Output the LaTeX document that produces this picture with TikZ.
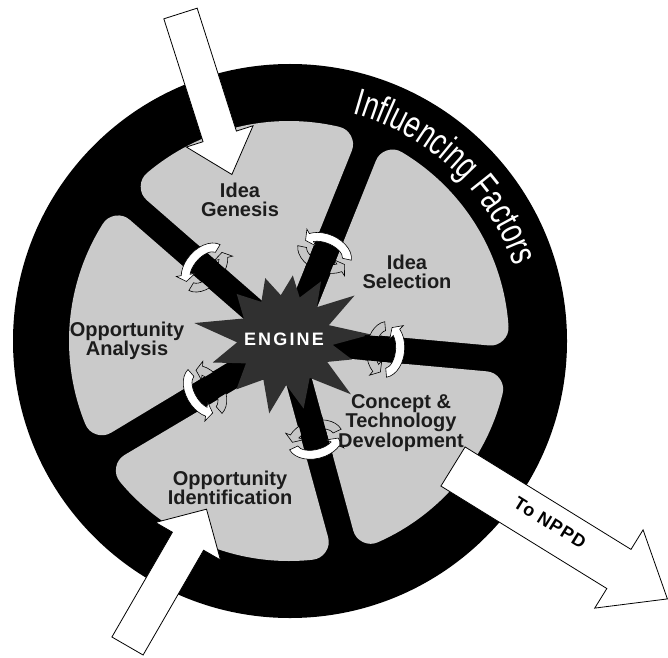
\documentclass[tikz,border=0pt]{standalone}
\usepackage{fontspec}
\setmainfont{Liberation Sans}
\newfontfamily\inffont[FakeStretch=0.72]{Liberation Sans}
\usetikzlibrary{decorations.text,calc}
\definecolor{segGray}{RGB}{202,202,202}
\definecolor{engineGray}{RGB}{48,48,48}
\definecolor{lblInk}{RGB}{28,28,28}
\tikzset{
  seg/.style={fill=segGray, draw=segGray, line width=36pt, line join=round},
  lbl/.style={font=\bfseries\fontsize{20pt}{19.5pt}\selectfont, text=lblInk, align=center, inner sep=0pt},
  bigarrow/.style={fill=white, draw=black, line width=0.8pt, line join=miter},
  twfront/.style={fill=white, draw=black, line width=0.6pt},
  twback/.style={fill=gray!45, draw=black, line width=0.6pt},
}
\newcommand\BigArrow[7]{% x,y,angle,L,H,hw,HW
  \begin{scope}[shift={(#1,#2)}, rotate=#3]
    \path[bigarrow] (0,-#6) -- (#4,-#6) -- (#4,-#7) -- ({#4+#5},0) -- (#4,#7) -- (#4,#6) -- (0,#6) -- cycle;
  \end{scope}}
\newcommand\TwBand[4]{% style, start, end, tip
  \path[#1] (#2:19pt and 28pt) arc[start angle=#2, end angle=#3, x radius=19pt, y radius=28pt]
     -- (#3:24pt and 33pt) -- (#4:14.5pt and 23.5pt) -- (#3:5pt and 14pt) -- (#3:10pt and 19pt)
     arc[start angle=#3, end angle=#2, x radius=10pt, y radius=19pt] -- cycle;}
\newcommand\Twist[2]{% spoke angle, distance from centre
  \begin{scope}[shift={(289,316)}, rotate=#1, xshift=#2pt]
    \TwBand{twback}{100}{235}{257}
    \fill[black] (-22,-12.5) rectangle (22,12.5);
    \TwBand{twfront}{-80}{50}{72}
  \end{scope}}
\begin{document}
\begin{tikzpicture}[x=1pt,y=1pt]
\useasboundingbox (0,0) rectangle (668,657);
\fill[white] (0,0) rectangle (668,657);
% ring
\fill[black] (290,316) circle[radius=277pt];
% gray segments
\begin{scope}[shift={(289,316)}]
\foreach \a/\b in {-5/68,68/139,139/211,211/285,285/355}{
  \pgfmathsetmacro\m{(\a+\b)/2}
  \pgfmathsetmacro\s{\a+8.83}
  \pgfmathsetmacro\t{\b-8.83}
  \path[seg] (\m:53pt) -- (\s:202pt) arc[start angle=\s, end angle=\t, radius=202pt] -- cycle;
}
\end{scope}
% engine star
\begin{scope}[shift={(285,318)}]
\fill[engineGray] (3:86pt) -- (17.5:46pt) -- (32:82pt) -- (45:45pt) -- (58:68pt) -- (70.5:44pt)
  -- (83:64pt) -- (95.5:44pt) -- (108:64pt) -- (122.5:44pt) -- (137:66pt) -- (153.5:46pt)
  -- (170:92pt) -- (184:48pt) -- (198:76pt) -- (212:46pt) -- (226:70pt) -- (242:46pt)
  -- (258:76pt) -- (271.5:46pt) -- (285:72pt) -- (302.5:46pt) -- (320:86pt) -- (331.5:48pt)
  -- (343:70pt) -- (353:48pt) -- cycle;
\end{scope}
\node[font=\bfseries\fontsize{18pt}{18pt}\selectfont\addfontfeature{LetterSpace=12}, text=white] (engine) at (284,318) {ENGINE};
% twist arrows on spokes
\Twist{139}{112}
\Twist{68}{95}
\Twist{-5}{97}
\Twist{211}{98}
\Twist{-75}{102}
% labels
\node[lbl] (genesis) at (240,457) {Idea\\Genesis};
\node[lbl] (selection) at (407,385) {Idea\\Selection};
\node[lbl] (analysis) at (127,316) {Opportunity\\Analysis};
\node[lbl] (concept) at (401,234) {Concept \&\\Technology\\Development};
\node[lbl] (ident) at (230,169) {Opportunity\\Identification};
% influencing factors
\begin{scope}[shift={(290,316)}]
\path[decorate, decoration={text along path, text align=center,
   text={|\inffont\fontsize{38pt}{38pt}\selectfont\color{white}|Influencing Factors}}]
   (86.5:236pt) arc[start angle=86.5, end angle=6.5, radius=236pt];
\end{scope}
% big arrows
\BigArrow{180.5}{643.5}{-72.3}{129}{40}{17.5}{35}
\BigArrow{127.5}{11}{60}{121}{37}{18}{37.5}
\BigArrow{453}{190.5}{-31.7}{195}{57}{23}{46}
\node[rotate=-32, font=\bfseries\fontsize{18pt}{18pt}\selectfont\addfontfeature{LetterSpace=6}] (nppd) at (550,134) {To NPPD};
\end{tikzpicture}
\end{document}
